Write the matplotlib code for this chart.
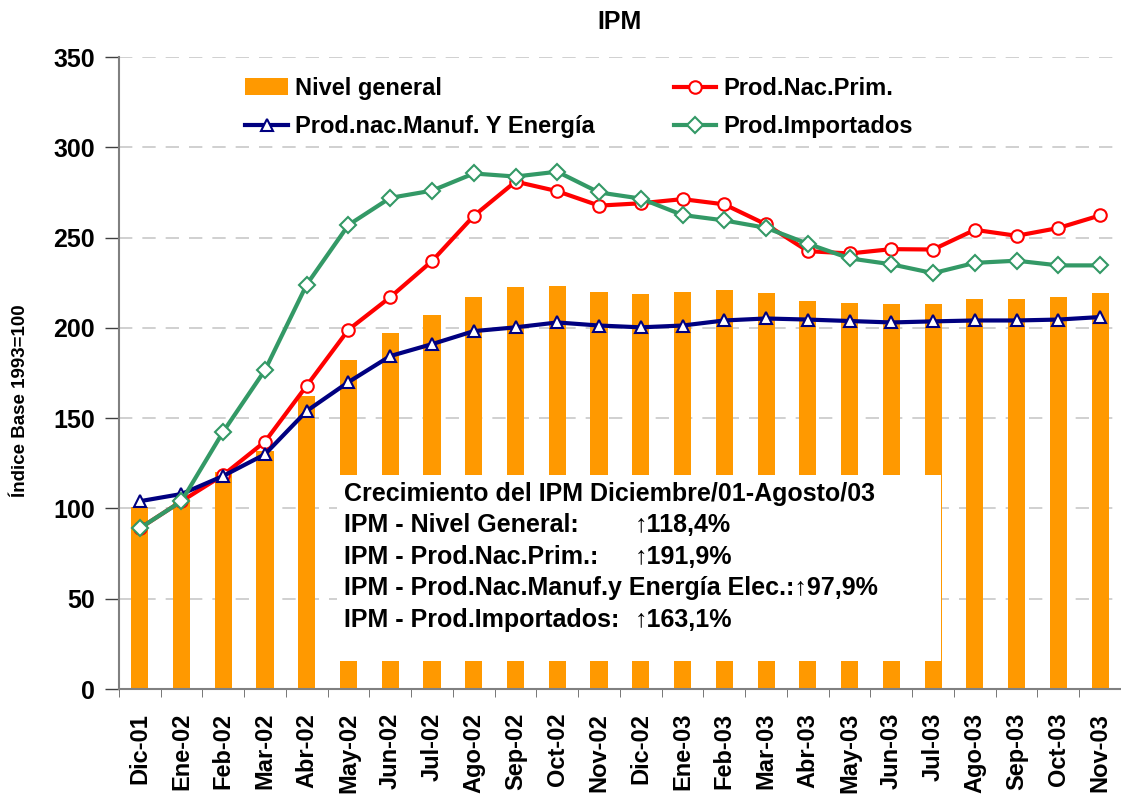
import matplotlib
matplotlib.use('Agg')
import matplotlib.pyplot as plt
import numpy as np
from matplotlib.patches import Rectangle

plt.rcParams['font.family'] = ['Liberation Sans', 'DejaVu Sans']
plt.rcParams['font.weight'] = 'bold'
plt.rcParams['axes.titleweight'] = 'bold'
plt.rcParams['axes.labelweight'] = 'bold'

# datos
meses = ['Dic-01', 'Ene-02', 'Feb-02', 'Mar-02', 'Abr-02', 'May-02', 'Jun-02', 'Jul-02',
         'Ago-02', 'Sep-02', 'Oct-02', 'Nov-02', 'Dic-02', 'Ene-03', 'Feb-03', 'Mar-03',
         'Abr-03', 'May-03', 'Jun-03', 'Jul-03', 'Ago-03', 'Sep-03', 'Oct-03', 'Nov-03']
nivel_general = [101, 105, 120, 132, 162, 182, 197, 207, 217, 222.5, 223.4, 219.8,
                 218.7, 219.8, 220.9, 219.2, 214.8, 213.7, 213.2, 213.2, 215.9, 215.9, 217, 219.2]
nac_prim = [89, 104, 118.5, 137, 168, 199, 217, 237, 262, 281, 275.7, 267.7,
            269, 271.3, 268.4, 257.3, 242.5, 241.2, 243.6, 243.4, 254.3, 251, 255.3, 262.3]
nac_manuf = [104, 108, 118, 130, 154, 170, 184.4, 191, 198.2, 200.3, 203, 201.3,
             200.3, 201.3, 204.1, 205.2, 204.6, 203.8, 203, 203.6, 204.1, 204.1, 204.6, 206]
importados = [89, 104, 142.5, 176.6, 224, 257, 272, 276, 285.5, 283.8, 286.5, 275,
              271.6, 262.5, 259.5, 255.4, 246.6, 238.5, 235.2, 230.3, 236, 237.2, 234.6, 234.6]

x = np.arange(len(meses))

fig = plt.figure(figsize=(11.21, 7.94), dpi=100)
ax = fig.add_axes([0.106, 0.1322, 0.894, 0.796])

barras = ax.bar(x, nivel_general, width=0.41, color='#FF9900', label='Nivel general', zorder=2)

# cuadro de texto (tapa las barras)
ax.add_patch(Rectangle((4.73, 15.5), 14.45, 103, facecolor='white', edgecolor='none', zorder=3))

l_prim, = ax.plot(x, nac_prim, color='#FF0000', lw=3, marker='o', ms=9, mfc='white',
                  mec='#FF0000', mew=1.5, label='Prod.Nac.Prim.', zorder=4)
l_manuf, = ax.plot(x, nac_manuf, color='#000080', lw=3, marker='^', ms=9, mfc='white',
                   mec='#000080', mew=1.5, label='Prod.nac.Manuf. Y Energía', zorder=5)
l_imp, = ax.plot(x, importados, color='#339966', lw=3, marker='D', ms=8, mfc='white',
                 mec='#339966', mew=1.5, label='Prod.Importados', zorder=6)

ax.set_xlim(-0.5, len(meses) - 0.5)
ax.set_ylim(0, 350)
ax.set_yticks(np.arange(0, 351, 50))
ax.tick_params(axis='y', labelsize=18, length=10, width=1, pad=7, color='#404040')
ax.set_xticks(x)
ax.set_xticklabels(meses, rotation=90, fontsize=17)
ax.tick_params(axis='x', length=0, pad=17)
ax.set_xticks(np.arange(-0.5, len(meses), 1), minor=True)
ax.tick_params(axis='x', which='minor', length=6, color='#606060')

ax.grid(axis='y', color='#c8c8c8', linestyle=(0, (8, 6)), lw=1.2)
ax.set_axisbelow(True)
for s in ['top', 'right']:
    ax.spines[s].set_visible(False)
ax.spines['left'].set_color('#808080')
ax.spines['left'].set_linewidth(1.5)
ax.spines['bottom'].set_color('#808080')
ax.spines['bottom'].set_linewidth(1.5)

ax.set_ylabel('Índice Base 1993=100', fontsize=13.5)
ax.yaxis.set_label_coords(-0.09, 0.457)
ax.set_title('IPM', fontsize=18, pad=20)

# leyenda: fila 1 Nivel general / Prod.Nac.Prim., fila 2 Manuf / Importados
ax.legend([barras, l_manuf, l_prim, l_imp],
          ['Nivel general', 'Prod.nac.Manuf. Y Energía', 'Prod.Nac.Prim.', 'Prod.Importados'],
          ncol=2, frameon=False, fontsize=17, loc='upper left', bbox_to_anchor=(0.105, 1.002),
          columnspacing=3.35, handlelength=1.8, handletextpad=0.3, labelspacing=0.63)

# textos del cuadro
lineas = ['Crecimiento del IPM Diciembre/01-Agosto/03',
          'IPM - Nivel General:',
          'IPM - Prod.Nac.Prim.:',
          'IPM - Prod.Nac.Manuf.y Energía Elec.:↑97,9%',
          'IPM - Prod.Importados:']
valores = ['', '↑118,4%', '↑191,9%', '', '↑163,1%']
for i, (t, v) in enumerate(zip(lineas, valores)):
    yy = 108 - i * 17.4
    ax.text(4.9, yy, t, fontsize=18, va='center', ha='left', zorder=7)
    if v:
        ax.text(11.85, yy, v, fontsize=18, va='center', ha='left', zorder=7)

fig.savefig('out.png', dpi=100)
